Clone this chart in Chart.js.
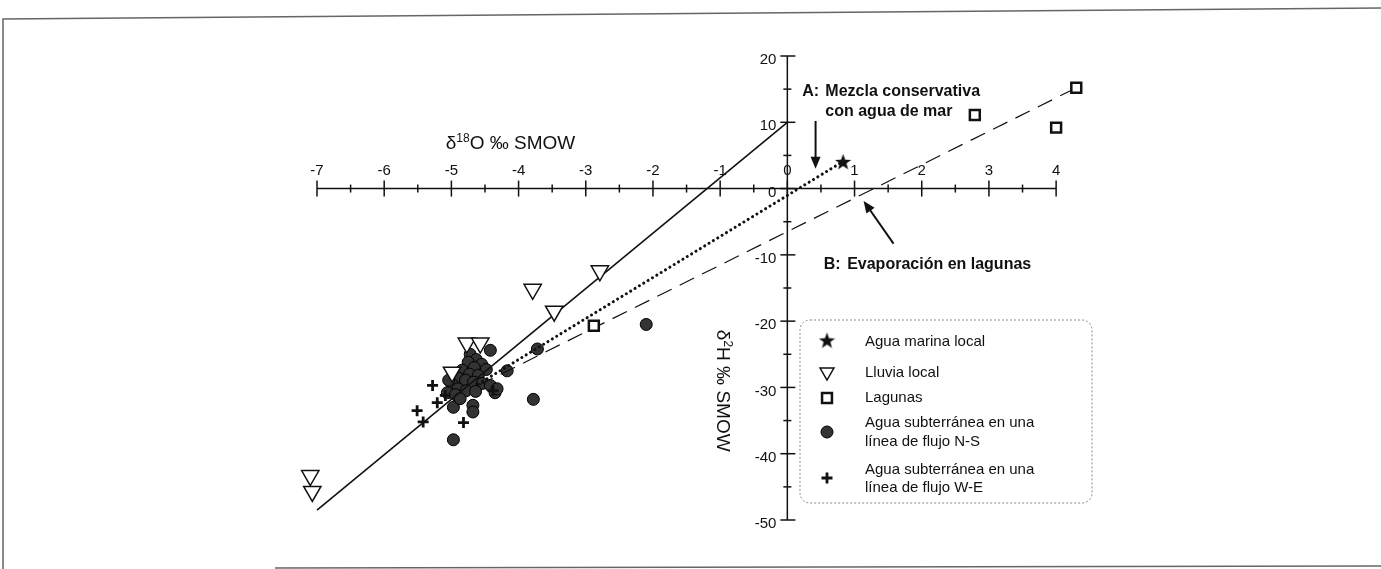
<!DOCTYPE html>
<html>
<head>
<meta charset="utf-8">
<script src="https://cdn.jsdelivr.net/npm/chart.js@4.4.0/dist/chart.umd.min.js"></script>
<style>
  html, body { margin: 0; padding: 0; background: #fff; }
  canvas { display: block; }
</style>
</head>
<body>
<canvas id="chart" width="1381" height="569"></canvas>
<script>
// values, pairs of [d18O, d2H]
const aguaMarina = [[0.83, 4.1]];
const lluvia = [[-2.79, -12.4], [-3.79, -15.2], [-3.47, -18.5], [-4.77, -23.3], [-4.57, -23.3],
    [-4.99, -27.7], [-7.10, -43.3], [-7.07, -45.7]];
const lagunas = [[4.30, 15.2], [2.79, 11.1], [4.0, 9.2], [-2.88, -20.7]];
const flujoNS = [[-2.10, -20.5], [-3.72, -24.2], [-4.42, -24.4], [-4.17, -27.5], [-3.78, -31.8],
    [-4.68, -32.7], [-4.68, -33.7], [-4.97, -33.0], [-4.97, -37.9], [-4.35, -30.8],
    [-4.72, -25.0], [-4.63, -25.8], [-4.55, -26.5], [-4.75, -26.2], [-4.66, -27.0], [-4.48, -27.3],
    [-4.84, -27.4], [-4.73, -28.0], [-4.60, -28.2], [-4.90, -28.6], [-4.79, -28.9], [-4.67, -29.2],
    [-4.54, -29.4], [-4.42, -29.7], [-4.32, -30.2], [-4.99, -29.5], [-4.90, -30.2], [-4.78, -30.5],
    [-4.64, -30.6], [-5.06, -30.8], [-4.94, -31.1], [-5.04, -28.9], [-4.87, -31.7]];
const flujoWE = [[-5.28, -29.7], [-5.21, -32.3], [-5.51, -33.5], [-5.42, -35.2], [-4.82, -35.3],
    [-4.38, -30.5], [-5.09, -31.2]];

// reference lines
const rectaMeteorica = [[-7, -48.5], [0, 10]];
const mezclaMar = [[-4.6, -29.5], [0.83, 4.1]];
const evaporacion = [[-4.6, -29.7], [4.3, 15.2]];

const xTicks = [-7, -6, -5, -4, -3, -2, -1, 0, 1, 2, 3, 4];
const yTicks = [-50, -40, -30, -20, -10, 0, 10, 20];

const FONT = '"Liberation Sans", Arial, sans-serif';
const INK = '#111';

const toXY = arr => arr.map(p => ({ x: p[0], y: p[1] }));

// filled five point star for the sea water sample
function starImage(size) {
    const c = document.createElement('canvas');
    c.width = c.height = size;
    const g = c.getContext('2d');
    g.beginPath();
    for (let i = 0; i < 10; i++) {
        const r = i % 2 ? size * 0.21 : size / 2;
        const a = -Math.PI / 2 + i * Math.PI / 5;
        g.lineTo(size / 2 + r * Math.cos(a), size / 2 + r * Math.sin(a) + size * 0.06);
    }
    g.closePath();
    g.fillStyle = INK;
    g.fill();
    return c;
}
const star = starImage(17);

// frame round the figure
const framePlugin = {
    id: 'frame',
    beforeDraw(chart) {
        const c = chart.ctx;
        c.save();
        c.strokeStyle = '#666';
        c.lineWidth = 1.5;
        c.beginPath();
        c.moveTo(3, 569);
        c.lineTo(3, 19);
        c.lineTo(1381, 8);
        c.moveTo(275, 568);
        c.lineTo(1381, 566);
        c.stroke();
        c.restore();
    }
};

// axes crossing at the origin
const axesPlugin = {
    id: 'crossAxes',
    beforeDatasetsDraw(chart) {
        const { ctx: c, scales: { x, y } } = chart;
        const x0 = x.getPixelForValue(0), y0 = y.getPixelForValue(0);
        c.save();
        c.strokeStyle = INK;
        c.fillStyle = INK;
        c.lineWidth = 1.5;
        const seg = (a, b, d, e) => { c.beginPath(); c.moveTo(a, b); c.lineTo(d, e); c.stroke(); };

        seg(x.getPixelForValue(xTicks[0]), y0, x.getPixelForValue(xTicks[xTicks.length - 1]), y0);
        seg(x0, y.getPixelForValue(yTicks[0]), x0, y.getPixelForValue(yTicks[yTicks.length - 1]));

        c.font = '15px ' + FONT;
        c.textAlign = 'center';
        c.textBaseline = 'bottom';
        xTicks.forEach((v, i) => {
            const px = x.getPixelForValue(v);
            seg(px, y0 - 8, px, y0 + 8);
            if (i < xTicks.length - 1) {
                const m = x.getPixelForValue(v + 0.5);
                seg(m, y0 - 4, m, y0 + 4);
            }
            c.fillText(String(v), px, y0 - 10);
        });

        c.textAlign = 'right';
        c.textBaseline = 'middle';
        yTicks.forEach((v, i) => {
            const py = y.getPixelForValue(v);
            seg(x0 - 7, py, x0 + 8, py);
            if (i < yTicks.length - 1) {
                const m = y.getPixelForValue(v + 5);
                seg(x0 - 4, m, x0 + 4, m);
            }
            c.fillText(String(v), x0 - 11, py + 4);
        });
        c.restore();
    }
};

function drawParts(c, parts, xStart, yMid) {
    let cx = xStart;
    parts.forEach(([txt, size, dy]) => {
        c.font = size + 'px ' + FONT;
        c.fillText(txt, cx, yMid + dy);
        cx += c.measureText(txt).width;
    });
}
function partsWidth(c, parts) {
    return parts.reduce((w, [txt, size]) => { c.font = size + 'px ' + FONT; return w + c.measureText(txt).width; }, 0);
}

function arrow(c, x1, y1, x2, y2) {
    const a = Math.atan2(y2 - y1, x2 - x1);
    const len = 12, half = 5;
    c.beginPath();
    c.moveTo(x1, y1);
    c.lineTo(x2 - Math.cos(a) * len * 0.8, y2 - Math.sin(a) * len * 0.8);
    c.stroke();
    c.beginPath();
    c.moveTo(x2, y2);
    c.lineTo(x2 - Math.cos(a) * len + Math.sin(a) * half, y2 - Math.sin(a) * len - Math.cos(a) * half);
    c.lineTo(x2 - Math.cos(a) * len - Math.sin(a) * half, y2 - Math.sin(a) * len + Math.cos(a) * half);
    c.closePath();
    c.fill();
}

// titles, notes, arrows and the legend box
const notesPlugin = {
    id: 'notes',
    afterDraw(chart) {
        const { ctx: c, scales: { x, y } } = chart;
        const X = v => x.getPixelForValue(v), Y = v => y.getPixelForValue(v);
        c.save();
        c.fillStyle = INK;
        c.strokeStyle = INK;
        c.textBaseline = 'middle';
        c.textAlign = 'left';

        // x title
        const xt = [['δ', 19, 0], ['18', 12, -5], ['O ‰ SMOW', 19, 0]];
        drawParts(c, xt, X(-4.12) - partsWidth(c, xt) / 2, Y(6.7));

        // y title, turned clockwise
        const yt = [['δ', 19, 0], ['2', 12, -5], ['H ‰ SMOW', 19, 0]];
        c.save();
        c.translate(722, Y(-30.5));
        c.rotate(Math.PI / 2);
        drawParts(c, yt, -partsWidth(c, yt) / 2, 0);
        c.restore();

        // notes
        c.font = 'bold 16px ' + FONT;
        c.fillText('A:', X(0.22), Y(14.7));
        c.fillText('Mezcla conservativa', X(0.565), Y(14.7));
        c.fillText('con agua de mar', X(0.565), Y(11.56));
        c.fillText('B:', X(0.54), Y(-11.5));
        c.fillText('Evaporación en lagunas', X(0.89), Y(-11.5));

        c.lineWidth = 2;
        arrow(c, X(0.42), Y(10.2), X(0.42), Y(3.0));
        arrow(c, X(1.58), Y(-8.3), X(1.135), Y(-1.86));

        // legend
        c.save();
        c.strokeStyle = '#888';
        c.lineWidth = 1;
        c.setLineDash([2, 2]);
        c.beginPath();
        c.roundRect(800, 320, 292, 183, 10);
        c.stroke();
        c.restore();

        const rows = [
            { ds: 0, sy: 340, lines: ['Agua marina local'], ty: [342] },
            { ds: 1, sy: 372, lines: ['Lluvia local'], ty: [373] },
            { ds: 2, sy: 398, lines: ['Lagunas'], ty: [398] },
            { ds: 7, sy: 432, lines: ['Agua subterránea en una', 'línea de flujo N-S'], ty: [423, 442] },
            { ds: 3, sy: 478, lines: ['Agua subterránea en una', 'línea de flujo W-E'], ty: [470, 488] }
        ];
        c.font = '15px ' + FONT;
        rows.forEach(r => {
            const d = chart.data.datasets[r.ds];
            c.save();
            c.fillStyle = d.pointBackgroundColor;
            c.strokeStyle = d.pointBorderColor;
            c.lineWidth = d.pointBorderWidth;
            if (Chart.helpers && Chart.helpers.drawPoint) {
                Chart.helpers.drawPoint(c, {
                    pointStyle: d.pointStyle,
                    rotation: d.pointRotation || 0,
                    radius: r.ds === 1 ? 8 : d.pointRadius,
                    borderWidth: d.pointBorderWidth
                }, 827, r.sy);
            }
            c.restore();
            r.lines.forEach((t, i) => c.fillText(t, 865, r.ty[i]));
        });
        c.restore();
    }
};

const chart = document.querySelector('#chart').getContext('2d');

new Chart(chart, {
    type: 'scatter',
    data: {
        datasets: [
            {
                label: 'Agua marina local',
                data: toXY(aguaMarina),
                pointStyle: star,
                pointRadius: 8,
                pointBackgroundColor: INK,
                pointBorderColor: INK,
                pointBorderWidth: 0,
                clip: false
            },
            {
                label: 'Lluvia local',
                data: toXY(lluvia),
                pointStyle: 'triangle',
                pointRotation: 180,
                pointRadius: 10,
                pointBackgroundColor: '#fff',
                pointBorderColor: INK,
                pointBorderWidth: 1.5,
                clip: false
            },
            {
                label: 'Lagunas',
                data: toXY(lagunas),
                pointStyle: 'rect',
                pointRadius: 7,
                pointBackgroundColor: '#fff',
                pointBorderColor: INK,
                pointBorderWidth: 2.5,
                clip: false
            },
            {
                label: 'Agua subterránea en una línea de flujo W-E',
                data: toXY(flujoWE),
                pointStyle: 'cross',
                pointRadius: 5.5,
                pointBackgroundColor: INK,
                pointBorderColor: INK,
                pointBorderWidth: 2.8,
                clip: false
            },
            {
                label: 'recta meteórica',
                data: toXY(rectaMeteorica),
                showLine: true,
                pointRadius: 0,
                borderColor: INK,
                borderWidth: 1.6,
                clip: false
            },
            {
                label: 'mezcla con agua de mar',
                data: toXY(mezclaMar),
                showLine: true,
                pointRadius: 0,
                borderColor: INK,
                borderWidth: 3,
                borderDash: [0.1, 5],
                borderCapStyle: 'round',
                clip: false
            },
            {
                label: 'evaporación',
                data: toXY(evaporacion),
                showLine: true,
                pointRadius: 0,
                borderColor: INK,
                borderWidth: 1.2,
                borderDash: [16, 9],
                clip: false
            },
            {
                label: 'Agua subterránea en una línea de flujo N-S',
                data: toXY(flujoNS),
                pointStyle: 'circle',
                pointRadius: 6,
                pointBackgroundColor: '#333',
                pointBorderColor: '#000',
                pointBorderWidth: 1,
                clip: false
            }
        ]
    },
    options: {
        responsive: false,
        animation: false,
        // x runs a little past 4 so the last lagoon sample is inside the area
        layout: { padding: { left: 317, right: 298, top: 56, bottom: 49 } },
        scales: {
            x: { type: 'linear', min: -7, max: 4.4, display: false },
            y: { type: 'linear', min: -50, max: 20, display: false }
        },
        plugins: {
            legend: { display: false },
            tooltip: { enabled: false }
        }
    },
    plugins: [framePlugin, axesPlugin, notesPlugin]
})
</script>
</body>
</html>
